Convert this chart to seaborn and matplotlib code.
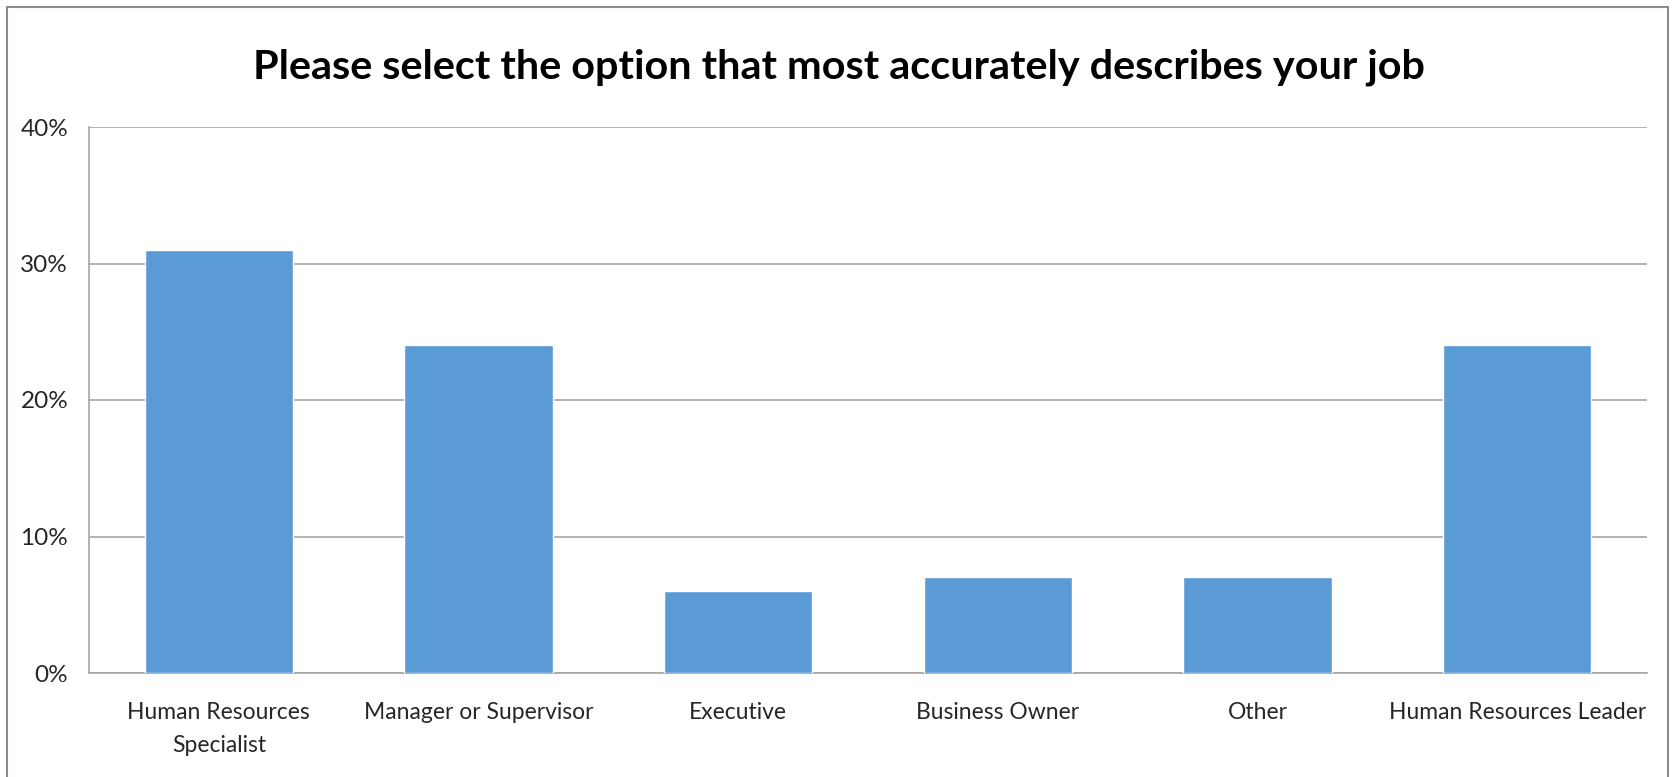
import seaborn as sns
import matplotlib.pyplot as plt
import pandas as pd
from matplotlib.patches import Rectangle
from matplotlib.ticker import FuncFormatter

# -----------------------
# Data
# -----------------------
categories = [
    "Human Resources\nSpecialist",
    "Manager or Supervisor",
    "Executive",
    "Business Owner",
    "Other",
    "Human Resources Leader",
]
shares = [31, 24, 6, 7, 7, 24]  # percent of respondents
y_ticks = [0, 10, 20, 30, 40]

df = pd.DataFrame({"Job": categories, "Share": shares})

# -----------------------
# Create visualization
# -----------------------
sns.set_style("white")
plt.rcParams["font.family"] = ["Lato", "DejaVu Sans"]

W, H = 1675, 777
fig = plt.figure(figsize=(W / 100, H / 100), dpi=100)
ax = fig.add_axes([89 / W, 1 - 673 / H, (1647 - 89) / W, (673 - 127) / H])

sns.barplot(data=df, x="Job", y="Share", color="#5B9BD5", saturation=1,
            width=0.57, ax=ax, zorder=3)

ax.set_ylim(0, 40)
ax.set_yticks(y_ticks)
ax.yaxis.set_major_formatter(FuncFormatter(lambda v, _: f"{v:.0f}%"))
ax.grid(axis="y", color="#A6A6A6", linewidth=1.2, zorder=0)
ax.set_xlabel("")
ax.set_ylabel("")
ax.tick_params(axis="both", length=0, labelsize=16.5, colors="#262626")
ax.tick_params(axis="y", labelsize=17.5, pad=15)
ax.tick_params(axis="x", pad=21)
for lbl in ax.get_xticklabels():
    lbl.set_linespacing(1.7)

for side in ["top", "right"]:
    ax.spines[side].set_visible(False)
for side in ["left", "bottom"]:
    ax.spines[side].set_color("#A6A6A6")
    ax.spines[side].set_linewidth(1.2)

fig.text(0.501, 1 - 78 / H, "Please select the option that most accurately describes your job",
         ha="center", va="baseline", fontsize=29.8, fontweight="bold", color="black")

# outer chart frame
fig.add_artist(Rectangle((7 / W, -0.02), (1668 - 7) / W, 1.02 - 7 / H,
                         transform=fig.transFigure, fill=False,
                         edgecolor="#8C8C8C", linewidth=1.5))

plt.savefig("out.png", dpi=100, pad_inches=0)
plt.close()
